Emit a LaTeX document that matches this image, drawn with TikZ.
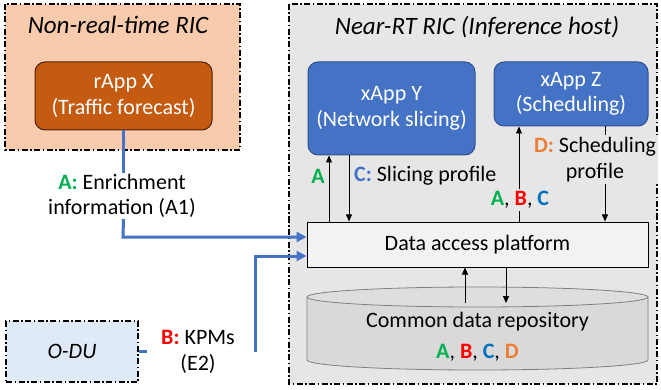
\documentclass[tikz,border=0pt]{standalone}
\usepackage{fontspec}
\setmainfont{Carlito}
\usetikzlibrary{arrows.meta,calc}
\definecolor{peach}{HTML}{F8CBAD}
\definecolor{rust}{HTML}{C55A11}
\definecolor{rustdark}{HTML}{4A2106}
\definecolor{oblue}{HTML}{4472C4}
\definecolor{obluedark}{HTML}{2F528F}
\definecolor{lightblue}{HTML}{DEEBF7}
\definecolor{bggray}{HTML}{E7E6E6}
\definecolor{dapfill}{HTML}{F2F2F2}
\definecolor{cylfill}{HTML}{D9D9D9}
\definecolor{cyltop}{HTML}{DEDEDE}
\definecolor{cylline}{HTML}{7F7F7F}
\definecolor{agreen}{HTML}{00B050}
\definecolor{bred}{HTML}{FF0000}
\definecolor{cblue}{HTML}{4472C4}
\definecolor{cblue2}{HTML}{0070C0}
\definecolor{dorange}{HTML}{ED7D31}
\newcommand{\lA}{\textcolor{agreen}{\textbf{A}}}
\newcommand{\lB}{\textcolor{bred}{\textbf{B}}}
\newcommand{\lC}{\textcolor{cblue2}{\textbf{C}}}
\newcommand{\lD}{\textcolor{dorange}{\textbf{D}}}
\begin{document}
\begin{tikzpicture}[x=1pt,y=-1pt,
  font=\fontsize{22}{25.5}\selectfont,
  title/.style={font=\fontsize{25}{28}\selectfont\itshape},
  region/.style={draw=black, line width=1.2pt, dash pattern=on 6pt off 2.5pt on 1.5pt off 2.5pt},
  appbox/.style={rounded corners=10pt, line width=1pt, align=center, text=white, inner sep=0pt},
  lbl/.style={align=center, inner sep=1pt},
  bl/.style={draw=oblue, line width=3pt},
  blarr/.style={bl, -{Triangle[length=10pt,width=10pt]}},
  arr/.style={draw=black, line width=0.8pt, -{Triangle[length=7pt,width=6pt]}}
]
\useasboundingbox (0,0) rectangle (661,390);
% regions
\path[region, fill=peach] (5,4) rectangle (240,150);
\node[title] (nrt) at (118,25) {Non-real-time RIC};
\path[region, fill=bggray] (289,4) rectangle (657,384);
\node[title] (nearrt) at (477,27) {Near-RT RIC (Inference host)};
\node[region, fill=lightblue, minimum width=132pt, minimum height=61pt, inner sep=0pt, font=\fontsize{22}{25.5}\selectfont\itshape] (odu) at (72,351.5) {O-DU};

% apps
\node[appbox, fill=rust, draw=rustdark, minimum width=177pt, minimum height=68pt] (rx) at (123.5,96) {rApp X\\(Traffic forecast)};
\node[appbox, fill=oblue, draw=obluedark, minimum width=167pt, minimum height=93pt] (xy) at (391.5,108.5) {xApp Y\\(Network slicing)};
\node[appbox, fill=oblue, draw=obluedark, minimum width=154pt, minimum height=64pt] (xz) at (571,94) {xApp Z\\(Scheduling)};

% data access platform
\node[draw=black, fill=dapfill, line width=1pt, minimum width=341pt, minimum height=45pt, inner sep=0pt] (dap) at (477.5,244.5) {Data access platform};

% cylinder
\path[fill=cylfill, draw=cylline, line width=0.8pt] (307,297) -- (307,360) arc[start angle=180, end angle=360, x radius=170.5pt, y radius=10pt] -- (648,297);
\path[fill=cyltop, draw=cylline, line width=0.8pt] (477.5,297) ellipse[x radius=170.5pt, y radius=10pt];
\coordinate (cyltopc) at (477.5,303);
\node[lbl] (cdr) at (477.5,322) {Common data repository};
\node[lbl] (cdrl) at (477.5,353) {\lA, \lB, \lC, \lD};

% labels outside
\node[lbl] (lblA) at (122,196) {\lA\textcolor{agreen}{\textbf{:}} Enrichment\\information (A1)};
\node[lbl] (lblB) at (198,352) {\lB\textcolor{bred}{\textbf{:}} KPMs\\(E2)};

% blue connectors
\coordinate (k1) at (123,237);
\coordinate (k2t) at (255,256);
\coordinate (k2b) at (255,352);
\draw[bl] (rx.south) -- (rx.south |- lblA.north);
\draw[blarr] (rx.south |- lblA.south) -- (k1) -- (k1 -| dap.west);
\draw[bl] (odu.east) -- ++(8,0);
\draw[blarr] (k2b) -- (k2t) -- (k2t -| dap.west);

% black connectors
\coordinate (xa) at (329,0);
\coordinate (xc) at (349,0);
\coordinate (xabc) at (519,0);
\coordinate (xd) at (605,0);
\coordinate (xup) at (465,0);
\coordinate (xdn) at (506,0);
\draw[arr] (dap.north -| xa) -- (xy.south -| xa);
\draw[arr] (xy.south -| xc) -- (dap.north -| xc);
\draw[arr] (dap.north -| xabc) -- (xz.south -| xabc);
\draw[arr] (xz.south -| xd) -- (dap.north -| xd);
\draw[arr] (cyltopc -| xup) -- (dap.south -| xup);
\draw[arr] (dap.south -| xdn) -- (cyltopc -| xdn);

% labels inside
\node[lbl] (la) at (318,176) {\lA};
\node[lbl, anchor=west] (lc) at (353,176) {\textcolor{cblue}{\textbf{C:}} Slicing profile};
\node[lbl, fill=bggray, inner sep=2pt] (labc) at (520,200) {\lA, \lB, \lC};
\node[lbl, fill=bggray, inner sep=2pt] (ld) at (595,159.5) {\lD\textcolor{dorange}{\textbf{:}} Scheduling\\profile};
\end{tikzpicture}
\end{document}
